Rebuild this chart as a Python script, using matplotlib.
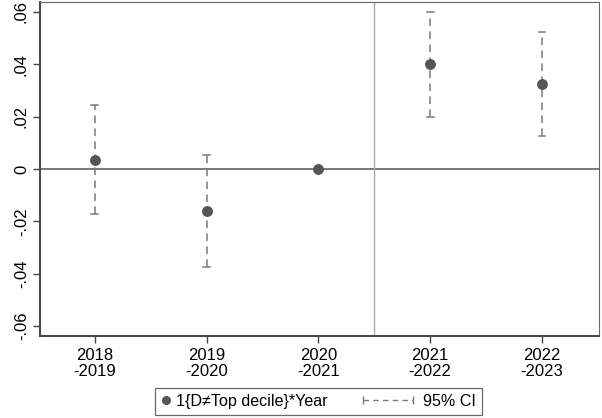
import matplotlib
matplotlib.use("Agg")
import matplotlib.pyplot as plt
from matplotlib.lines import Line2D
from matplotlib.legend_handler import HandlerLine2D

PERIODS = ["2018\n-2019", "2019\n-2020", "2020\n-2021", "2021\n-2022", "2022\n-2023"]
COEFS = [0.0035, -0.016, 0.0, 0.040, 0.0325]
CI_LOW = [-0.0172, -0.0374, 0.0, 0.0199, 0.0126]
CI_HIGH = [0.0245, 0.0054, 0.0, 0.0600, 0.0523]
Y_TICKS = [-0.06, -0.04, -0.02, 0.0, 0.02, 0.04, 0.06]
Y_TICK_LABELS = ["-.06", "-.04", "-.02", "0", ".02", ".04", ".06"]

POINT_COLOR = "#555555"
CI_COLOR = "#7a7a7a"
AXIS_INK = "#444444"

plt.rcParams["font.family"] = ["Liberation Sans", "DejaVu Sans"]


class NarrowHandler(HandlerLine2D):
    """Line2D handler that shrinks its own handle box (for the dot entry)."""

    def __init__(self, width_pts, **kwargs):
        super().__init__(**kwargs)
        self.width_pts = width_pts

    def legend_artist(self, legend, orig_handle, fontsize, handlebox):
        handlebox.width = self.width_pts
        return super().legend_artist(legend, orig_handle, fontsize, handlebox)


fig = plt.figure(figsize=(6.02, 4.18), dpi=100, facecolor="white")
ax = fig.add_axes([40 / 602, (418 - 336) / 418, 559 / 602, 334 / 418])

x = list(range(len(PERIODS)))

# zero line and event line
ax.axhline(0, color="#555555", linewidth=1.1, zorder=1)
ax.axvline(2.5, color="#aaaaaa", linewidth=1.0, zorder=1)

for xi, lo, hi in zip(x, CI_LOW, CI_HIGH):
    if hi == lo:
        continue
    ax.plot([xi, xi], [lo, hi], color=CI_COLOR, linewidth=1.1,
            dashes=(5, 3.5), zorder=2)
    ax.plot([xi - 0.03, xi + 0.03], [lo, lo], color=CI_COLOR, linewidth=1.1, zorder=2)
    ax.plot([xi - 0.03, xi + 0.03], [hi, hi], color=CI_COLOR, linewidth=1.1, zorder=2)

ax.plot(x, COEFS, "o", color=POINT_COLOR, markersize=6.8, zorder=3)

ax.set_xlim(-0.49, 4.51)
ax.set_ylim(-0.0638, 0.0638)
ax.set_xticks(x)
ax.set_xticklabels(PERIODS, fontsize=12, linespacing=1.0)
ax.set_yticks(Y_TICKS)
ax.set_yticklabels(Y_TICK_LABELS, fontsize=12, rotation=90, va="center")
ax.tick_params(axis="both", colors=AXIS_INK, length=5, width=1, labelcolor="black")
ax.tick_params(axis="x", pad=4)
ax.tick_params(axis="y", pad=3)

ax.spines["left"].set_color(AXIS_INK)
ax.spines["left"].set_linewidth(1.4)
ax.spines["bottom"].set_color(AXIS_INK)
ax.spines["bottom"].set_linewidth(1.4)
ax.spines["top"].set_color("#666666")
ax.spines["top"].set_linewidth(0.8)
ax.spines["right"].set_color("#666666")
ax.spines["right"].set_linewidth(0.8)

point_handle = Line2D([], [], marker="o", color=POINT_COLOR, linestyle="none", markersize=5.5)
ci_handle = Line2D([], [], color=CI_COLOR, linewidth=1.0, dashes=(4, 3),
                   marker="|", markersize=6, markeredgewidth=1.0)
leg = fig.legend([point_handle, ci_handle], ["1{D≠Top decile}*Year", "95% CI"],
                 loc="center", bbox_to_anchor=(318.5 / 602, 0.0395), ncol=2,
                 fontsize=11.6, frameon=True, fancybox=False, edgecolor="#444444",
                 handlelength=3.65, handletextpad=0.35, columnspacing=1.9,
                 borderpad=0.4,
                 handler_map={ci_handle: HandlerLine2D(numpoints=2),
                              point_handle: NarrowHandler(7, numpoints=1)})
leg.get_frame().set_linewidth(0.9)

fig.savefig("out.png", dpi=100, facecolor="white")
